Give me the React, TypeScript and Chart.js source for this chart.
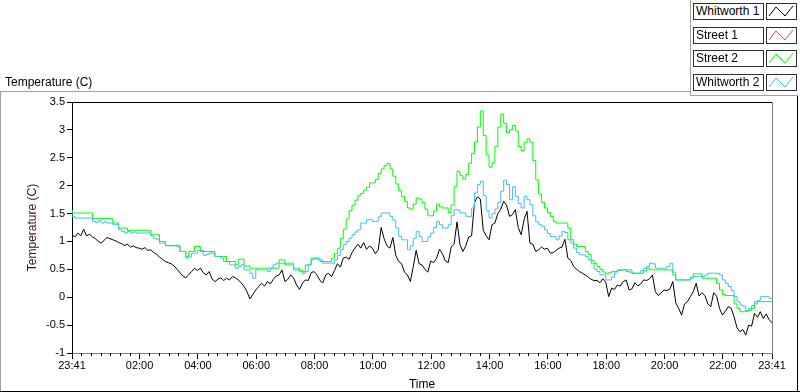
import { useEffect, useRef } from "react";
import { Chart, registerables } from "chart.js";

Chart.register(...registerables);

const FONT = "'Liberation Sans', Arial, sans-serif";

// Samples every 6 minutes, starting at 23:41 (minute 0) up to 23:41 next day (minute 1440)
const SAMPLE_STEP_MIN = 6;

const SERIES_NAMES = ["Whitworth 1", "Street 1", "Street 2", "Whitworth 2"];
const SERIES_COLORS = ["#000000", "#ff3b3b", "#00ff00", "#42bdf7"];

const WHITWORTH_1 = [
  1.12, 1.08, 1.15, 1.10, 1.22, 1.10, 1.13, 1.08, 1.05, 1.00,
  0.97, 1.02, 1.07, 1.05, 1.03, 1.01, 0.98, 0.96, 0.93, 0.95,
  0.90, 0.92, 0.89, 0.88, 0.86, 0.89, 0.84, 0.85, 0.80, 0.77,
  0.72, 0.68, 0.64, 0.62, 0.60, 0.56, 0.50, 0.44, 0.38, 0.35,
  0.40, 0.46, 0.52, 0.48, 0.52, 0.44, 0.40, 0.46, 0.33, 0.28,
  0.32, 0.35, 0.30, 0.34, 0.31, 0.37, 0.35, 0.31, 0.26, 0.19,
  0.10, -0.03, 0.05, 0.13, 0.19, 0.25, 0.20, 0.28, 0.24, 0.32,
  0.38, 0.40, 0.49, 0.28, 0.32, 0.40, 0.34, 0.22, 0.14, 0.25,
  0.31, 0.30, 0.44, 0.46, 0.40, 0.30, 0.26, 0.40, 0.43, 0.37,
  0.48, 0.60, 0.54, 0.70, 0.72, 0.68, 0.80, 0.88, 0.95, 0.88,
  0.98, 0.86, 0.92, 0.88, 0.78, 0.85, 1.25, 1.05, 0.92, 0.88,
  1.07, 0.75, 0.64, 0.60, 0.45, 0.40, 0.28, 0.55, 0.84, 0.60,
  0.58, 0.50, 0.45, 0.65, 0.62, 0.70, 0.86, 0.78, 0.65, 0.62,
  0.90, 0.95, 1.35, 0.95, 0.82, 0.92, 1.08, 1.10, 1.70, 1.80,
  1.76, 1.20, 1.10, 1.03, 1.30, 1.33, 1.50, 1.58, 1.72, 1.65,
  1.45, 1.48, 1.57, 1.25, 1.12, 1.39, 1.54, 0.97, 0.95, 0.82,
  0.85, 0.90, 0.86, 0.88, 0.79, 0.80, 0.84, 0.88, 0.90, 1.04,
  0.70, 0.66, 0.55, 0.50, 0.46, 0.43, 0.40, 0.36, 0.32, 0.30,
  0.30, 0.26, 0.33, 0.27, 0.01, 0.16, 0.14, 0.22, 0.20, 0.28,
  0.31, 0.13, 0.15, 0.26, 0.20, 0.24, 0.31, 0.30, 0.33, 0.40,
  0.10, 0.03, 0.08, 0.13, 0.12, 0.15, 0.28, -0.10, -0.20, -0.32,
  -0.12, -0.08, 0.01, 0.10, 0.25, 0.02, 0.08, 0.03, -0.12, -0.17,
  0.08, 0.02, -0.20, -0.32, -0.25, -0.17, -0.20, -0.35, -0.55, -0.62,
  -0.58, -0.68, -0.50, -0.52, -0.29, -0.36, -0.26, -0.38, -0.30, -0.40,
  -0.46,
];

const STREET_1: number[] = [];

const STREET_2 = [
  1.56, 1.51, 1.51, 1.51, 1.51, 1.51, 1.51, 1.51, 1.41, 1.41,
  1.41, 1.41, 1.41, 1.41, 1.41, 1.33, 1.33, 1.24, 1.24, 1.24,
  1.20, 1.20, 1.20, 1.20, 1.20, 1.20, 1.20, 1.20, 1.12, 1.12,
  1.12, 1.00, 1.00, 0.93, 0.93, 0.93, 0.93, 0.93, 0.82, 0.82,
  0.73, 0.82, 0.82, 0.91, 0.91, 0.82, 0.82, 0.82, 0.82, 0.82,
  0.73, 0.73, 0.73, 0.73, 0.64, 0.64, 0.64, 0.58, 0.68, 0.68,
  0.56, 0.56, 0.52, 0.52, 0.52, 0.52, 0.52, 0.52, 0.52, 0.52,
  0.52, 0.52, 0.67, 0.67, 0.58, 0.58, 0.58, 0.49, 0.49, 0.49,
  0.43, 0.58, 0.58, 0.70, 0.70, 0.70, 0.64, 0.64, 0.64, 0.64,
  0.70, 0.78, 0.88, 1.05, 1.22, 1.40, 1.55, 1.65, 1.74, 1.82,
  1.86, 1.92, 1.97, 2.05, 2.05, 2.11, 2.22, 2.30, 2.36, 2.40,
  2.30, 2.17, 2.03, 1.91, 1.81, 1.72, 1.60, 1.58, 1.67, 1.78,
  1.76, 1.70, 1.58, 1.46, 1.46, 1.55, 1.67, 1.62, 1.60, 1.60,
  1.52, 1.65, 1.99, 2.26, 2.18, 2.12, 2.20, 2.40, 2.58, 2.78,
  3.05, 3.34, 2.90, 2.55, 2.33, 2.41, 2.70, 3.05, 3.28, 3.12,
  2.95, 3.00, 3.08, 2.98, 2.70, 2.63, 2.78, 2.84, 2.78, 2.45,
  2.10, 1.85, 1.70, 1.60, 1.52, 1.45, 1.36, 1.33, 1.33, 1.33,
  1.33, 1.24, 1.03, 0.95, 0.91, 0.91, 0.91, 0.82, 0.77, 0.66,
  0.61, 0.55, 0.50, 0.45, 0.42, 0.44, 0.46, 0.46, 0.48, 0.49,
  0.49, 0.46, 0.45, 0.43, 0.43, 0.43, 0.43, 0.47, 0.52, 0.50,
  0.49, 0.49, 0.49, 0.49, 0.49, 0.49, 0.49, 0.40, 0.31, 0.31,
  0.31, 0.31, 0.31, 0.36, 0.42, 0.42, 0.42, 0.34, 0.34, 0.34,
  0.34, 0.34, 0.25, 0.13, 0.05, 0.03, 0.03, 0.03, -0.12, -0.20,
  -0.26, -0.26, -0.25, -0.20, -0.20, -0.12, -0.08, -0.08, -0.08, -0.08,
  -0.08,
];

const WHITWORTH_2 = [
  1.56, 1.45, 1.42, 1.42, 1.42, 1.42, 1.42, 1.42, 1.36, 1.34,
  1.37, 1.33, 1.35, 1.33, 1.33, 1.30, 1.30, 1.21, 1.18, 1.15,
  1.18, 1.15, 1.17, 1.15, 1.15, 1.15, 1.15, 1.15, 1.10, 1.05,
  1.03, 0.97, 0.97, 0.92, 0.92, 0.92, 0.92, 0.90, 0.82, 0.82,
  0.70, 0.72, 0.79, 0.79, 0.84, 0.84, 0.75, 0.77, 0.79, 0.79,
  0.73, 0.73, 0.70, 0.64, 0.64, 0.58, 0.58, 0.52, 0.55, 0.58,
  0.49, 0.49, 0.43, 0.34, 0.49, 0.49, 0.49, 0.49, 0.46, 0.52,
  0.58, 0.61, 0.61, 0.61, 0.61, 0.61, 0.61, 0.52, 0.52, 0.46,
  0.46, 0.46, 0.58, 0.67, 0.70, 0.67, 0.67, 0.61, 0.61, 0.61,
  0.61, 0.67, 0.75, 0.85, 0.94, 1.00, 1.06, 1.12, 1.17, 1.21,
  1.33, 1.33, 1.39, 1.39, 1.36, 1.36, 1.44, 1.51, 1.51, 1.51,
  1.45, 1.38, 1.24, 1.09, 1.03, 1.03, 0.85, 0.92, 1.05, 1.18,
  1.09, 1.00, 1.00, 1.08, 1.15, 1.25, 1.36, 1.30, 1.24, 1.24,
  1.30, 1.46, 1.57, 1.56, 1.51, 1.51, 1.45, 1.45, 1.60, 1.87,
  2.02, 2.08, 1.82, 1.55, 1.42, 1.50, 1.58, 1.70, 1.90, 2.10,
  2.02, 1.75, 1.98, 1.81, 1.68, 1.60, 1.81, 1.75, 1.66, 1.46,
  1.35, 1.30, 1.27, 1.21, 1.14, 1.09, 1.09, 1.03, 1.10, 1.18,
  1.16, 1.03, 0.97, 0.88, 0.80, 0.76, 0.76, 0.73, 0.67, 0.60,
  0.50, 0.46, 0.40, 0.40, 0.31, 0.31, 0.36, 0.45, 0.49, 0.49,
  0.49, 0.49, 0.49, 0.43, 0.43, 0.43, 0.48, 0.52, 0.55, 0.61,
  0.60, 0.52, 0.52, 0.52, 0.52, 0.55, 0.61, 0.45, 0.31, 0.31,
  0.31, 0.31, 0.31, 0.34, 0.37, 0.37, 0.38, 0.37, 0.40, 0.43,
  0.43, 0.43, 0.43, 0.40, 0.31, 0.25, 0.19, 0.12, 0.01, -0.08,
  -0.14, -0.16, -0.25, -0.24, -0.15, -0.08, -0.06, 0.01, 0.01, 0.01,
  -0.02,
];

// x tick positions in minutes after 23:41, and their labels
const X_TICK_MINUTES = [0, 139, 259, 379, 499, 619, 739, 859, 979, 1099, 1219, 1339, 1440];
const X_TICK_LABELS = ["23:41", "02:00", "04:00", "06:00", "08:00", "10:00", "12:00", "14:00", "16:00", "18:00", "20:00", "22:00", "23:41"];
const X_MINOR_STEP_MIN = 20;
const X_FIRST_MINOR_MIN = 19; // 00:00
const Y_TICKS = [-1, -0.5, 0, 0.5, 1, 1.5, 2, 2.5, 3, 3.5];

const toPoints = (vals: number[]) => vals.map((v, i) => ({ x: i * SAMPLE_STEP_MIN, y: v }));

const minorTicks: number[] = [];
for (let m = X_FIRST_MINOR_MIN; m < 1440; m += X_MINOR_STEP_MIN) {
  if (!X_TICK_MINUTES.includes(m)) minorTicks.push(m);
}

const framePlugin = {
  id: "framePlugin",
  afterDraw(chart: any) {
    const { ctx, chartArea } = chart;
    const xs = chart.scales.x;
    const { left, right, top, bottom } = chartArea;
    ctx.save();
    ctx.lineWidth = 1;
    ctx.strokeStyle = "#000";
    ctx.beginPath();
    for (const m of minorTicks) {
      const px = Math.round(xs.getPixelForValue(m)) + 0.5;
      ctx.moveTo(px, Math.round(bottom));
      ctx.lineTo(px, Math.round(bottom) + 3);
    }
    ctx.stroke();
    // top border (black)
    ctx.beginPath();
    ctx.moveTo(left, Math.round(top) + 0.5);
    ctx.lineTo(right, Math.round(top) + 0.5);
    ctx.stroke();
    // right border (grey)
    ctx.strokeStyle = "#808080";
    ctx.beginPath();
    ctx.moveTo(Math.round(right) + 0.5, top);
    ctx.lineTo(Math.round(right) + 0.5, bottom + 1);
    ctx.stroke();
    ctx.restore();
  },
};

function Swatch({ color }: { color: string }) {
  return (
    <svg width={29} height={15} style={{ display: "block" }}>
      <polyline points="2,12 9,3 18,12 26,2" fill="none" stroke={color} strokeWidth={1} />
    </svg>
  );
}

export default function App() {
  const canvasRef = useRef<HTMLCanvasElement>(null);

  useEffect(() => {
    const canvas = canvasRef.current;
    if (!canvas) return;
    const seriesData = [WHITWORTH_1, STREET_1, STREET_2, WHITWORTH_2];
    const chart = new Chart(canvas, {
      type: "line",
      data: {
        datasets: SERIES_NAMES.map((name, i) => ({
          label: name,
          data: toPoints(seriesData[i]),
          borderColor: SERIES_COLORS[i],
          backgroundColor: SERIES_COLORS[i],
          borderWidth: 1,
          pointRadius: 0,
          tension: 0,
          fill: false,
          stepped: i >= 2 ? ("after" as const) : false,
          order: 3 - i,
        })),
      },
      options: {
        responsive: false,
        animation: false,
        devicePixelRatio: 1,
        layout: { padding: { left: 0, right: 28, top: 102, bottom: 0 } },
        plugins: { legend: { display: false }, tooltip: { enabled: false } },
        scales: {
          x: {
            type: "linear",
            min: 0,
            max: 1440,
            afterBuildTicks: (s: any) => {
              s.ticks = X_TICK_MINUTES.map((v) => ({ value: v }));
            },
            afterFit: (s: any) => {
              s.height = 39;
            },
            ticks: {
              autoSkip: false,
              maxRotation: 0,
              minRotation: 0,
              padding: 0,
              color: "#000",
              font: { family: FONT, size: 11 },
              callback: (_v: any, i: number) => X_TICK_LABELS[i] ?? "",
            },
            grid: { display: true, drawOnChartArea: false, drawTicks: true, tickLength: 6, tickColor: "#000", tickWidth: 1 },
            border: { display: true, color: "#808080", width: 1 },
            title: { display: true, text: "Time", color: "#000", font: { family: FONT, size: 12 }, padding: { top: 0, bottom: 0 } },
          },
          y: {
            type: "linear",
            min: -1,
            max: 3.5,
            afterBuildTicks: (s: any) => {
              s.ticks = Y_TICKS.map((v) => ({ value: v }));
            },
            afterFit: (s: any) => {
              s.width = 72;
            },
            ticks: {
              color: "#000",
              padding: 2,
              font: { family: FONT, size: 11 },
              callback: (v: any) => String(v),
            },
            grid: { display: true, drawOnChartArea: false, drawTicks: true, tickLength: 5, tickColor: "#000", tickWidth: 1 },
            border: { display: true, color: "#000", width: 1 },
            title: { display: true, text: "Temperature (C)", color: "#3a1414", font: { family: FONT, size: 12 }, padding: { top: 25, bottom: 0 } },
          },
        },
      },
      plugins: [framePlugin],
    });
    return () => chart.destroy();
  }, []);

  const rowTops = [3, 27, 50, 74];

  return (
    <div style={{ position: "fixed", left: 0, top: 0, width: 800, height: 392, background: "#fff", overflow: "hidden", fontFamily: FONT }}>
      <canvas ref={canvasRef} width={800} height={392} style={{ position: "absolute", left: 0, top: 0, width: 800, height: 392 }} />
      {/* outer frame */}
      <div style={{ position: "absolute", left: 0, top: 91, width: 690, height: 1, background: "#a0a0a0" }} />
      <div style={{ position: "absolute", left: 0, top: 91, width: 1, height: 301, background: "#a0a0a0" }} />
      <div style={{ position: "absolute", left: 0, top: 391, width: 800, height: 1, background: "#000" }} />
      <div style={{ position: "absolute", left: 797, top: 95, width: 1, height: 297, background: "#000" }} />
      {/* legend panel frame */}
      <div style={{ position: "absolute", left: 690, top: 0, width: 1, height: 96, background: "#a0a0a0" }} />
      <div style={{ position: "absolute", left: 690, top: 95, width: 108, height: 1, background: "#a0a0a0" }} />
      {/* chart title */}
      <div style={{ position: "absolute", left: 5, top: 75, fontSize: 12, lineHeight: "14px", color: "#000", whiteSpace: "nowrap" }}>
        Temperature (C)
      </div>
      {/* legend */}
      {SERIES_NAMES.map((name, i) => (
        <div key={name}>
          <div
            style={{
              position: "absolute",
              left: 693,
              top: rowTops[i],
              width: 69,
              height: 15,
              border: "1px solid #303030",
              background: "#fff",
              fontSize: 12,
              lineHeight: "15px",
              paddingLeft: 0,
              color: "#000",
              whiteSpace: "nowrap",
              overflow: "hidden",
            }}
          >
            <span style={{ marginLeft: 2 }}>{name}</span>
          </div>
          <div
            style={{
              position: "absolute",
              left: 766,
              top: rowTops[i],
              width: 29,
              height: 15,
              border: "1px solid #303030",
              background: "#fff",
            }}
          >
            <Swatch color={SERIES_COLORS[i]} />
          </div>
        </div>
      ))}
    </div>
  );
}
